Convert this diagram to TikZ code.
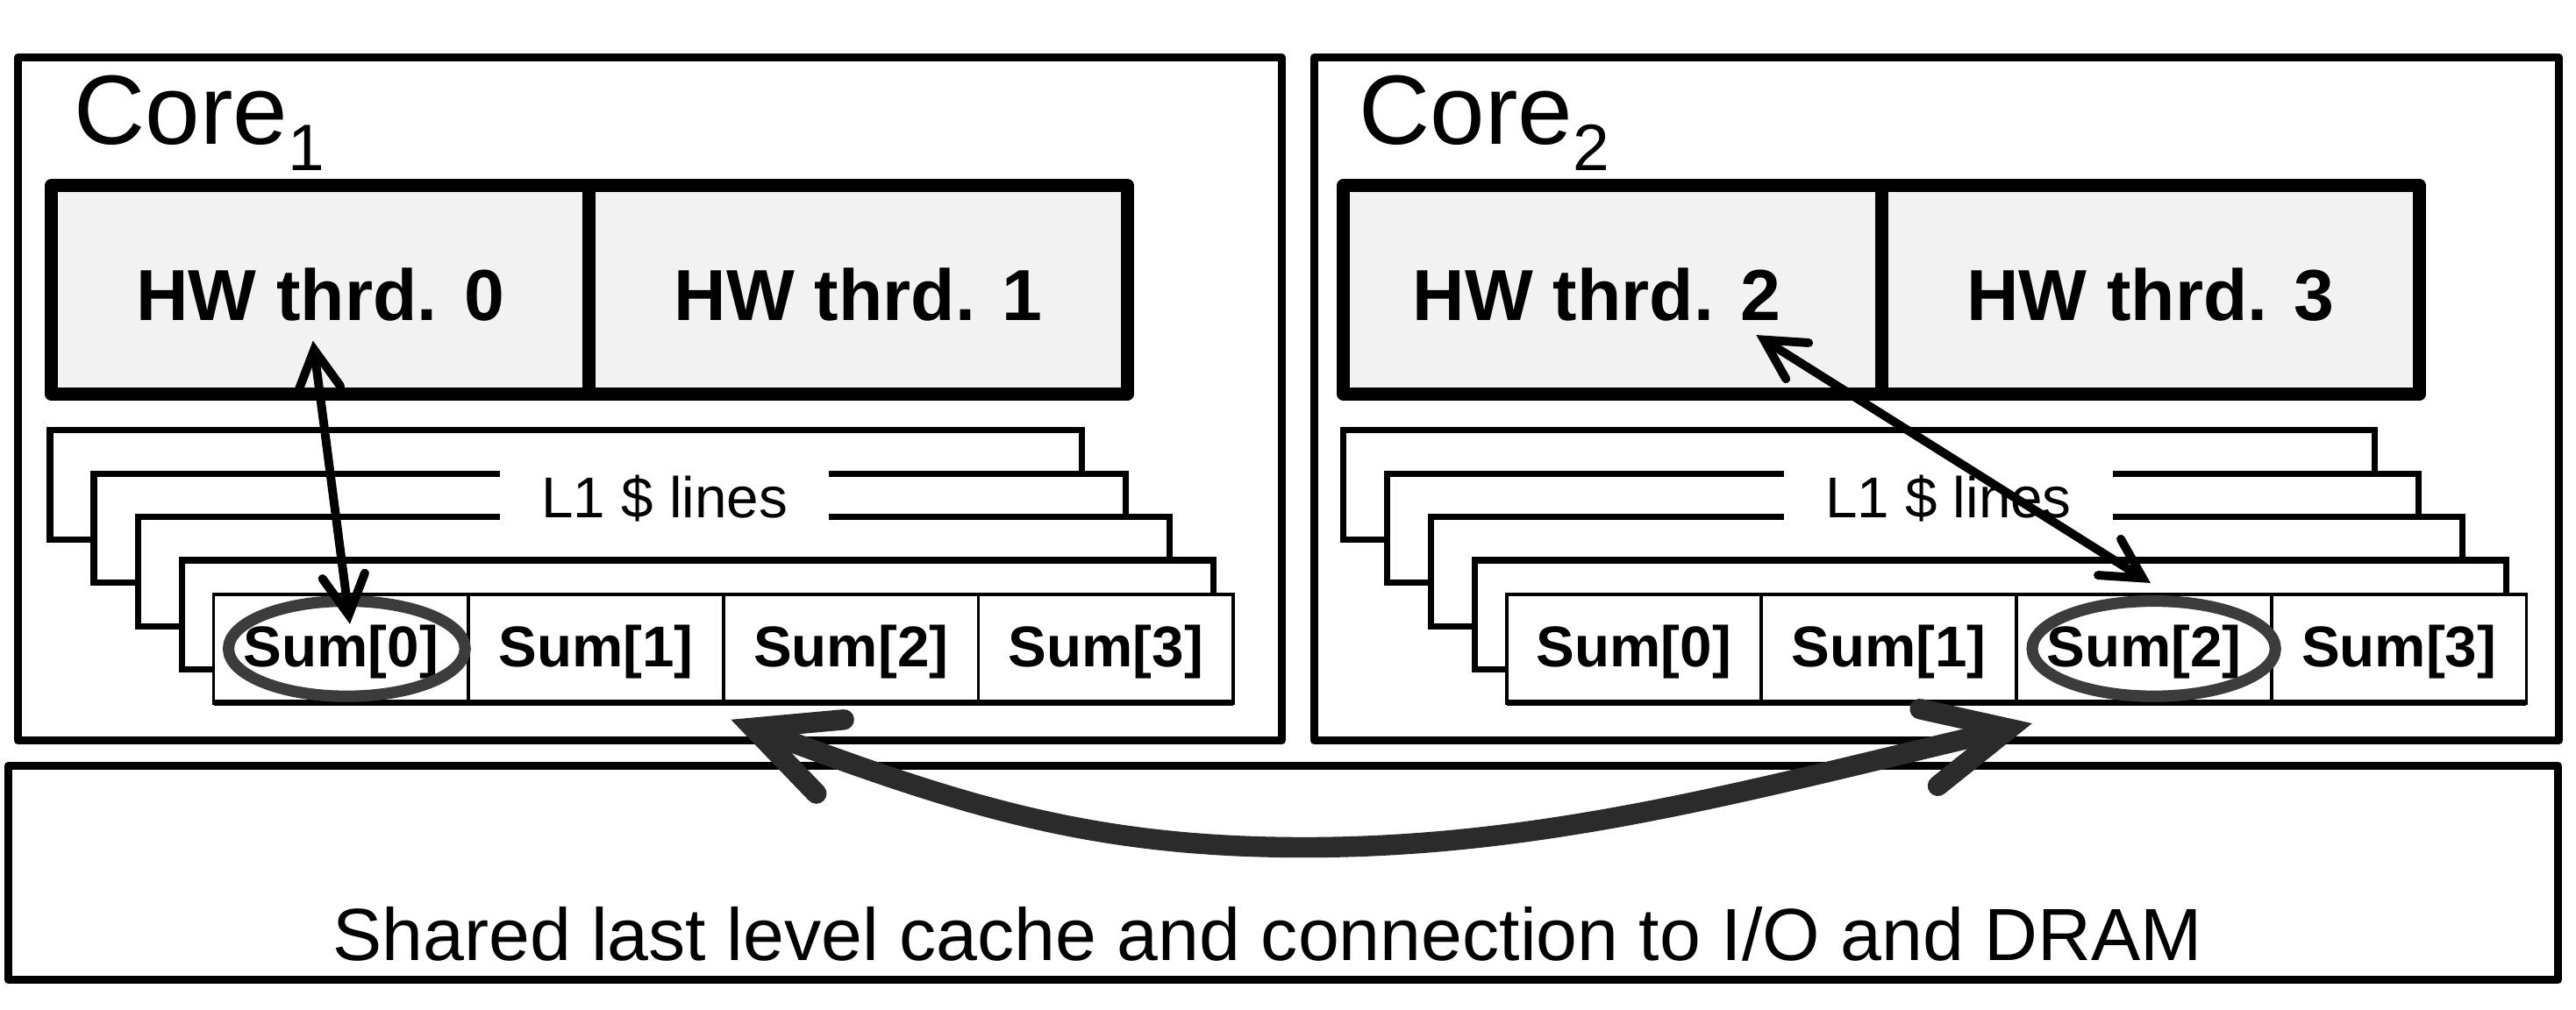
\documentclass[tikz,border=0pt]{standalone}
\usepackage{fontspec}
\setmainfont{Liberation Sans}
\usepackage{tikz}
\usepackage{xcolor}
\usetikzlibrary{arrows.meta}
\usetikzlibrary{positioning}

\definecolor{cellgray}{HTML}{F2F2F2}
\definecolor{ringgray}{HTML}{3C3C3C}
\definecolor{arrowgray}{HTML}{2B2B2B}

\begin{document}
\begin{tikzpicture}[x=1pt, y=-1pt,
    >={Straight Barb[line cap=round, line join=miter, length=24pt, width=26pt]},
    core box/.style={rectangle, draw, line width=4.8pt, line join=round, inner sep=0pt},
    core label/.style={anchor=base west, inner sep=0pt, font=\fontsize{60}{60}\selectfont},
    thrd node/.style={rectangle, draw, fill=cellgray, line width=8pt, line join=round,
                      outer sep=0pt, inner sep=0pt, minimum width=327.5pt, minimum height=127pt,
                      text height=37pt, text depth=0pt, font=\fontsize{44}{44}\selectfont\bfseries},
    line box/.style={draw, fill=white, line width=3.9pt},
    sum node/.style={rectangle, draw, fill=white, line width=2pt, outer sep=0pt, inner sep=0pt,
                     minimum width=155.2pt, minimum height=66pt, text height=24pt, text depth=2pt,
                     font=\fontsize{35}{35}\selectfont\bfseries},
    l1 label/.style={fill=white, inner sep=0pt, minimum width=200pt, minimum height=38pt,
                     text height=25pt, text depth=0pt, font=\fontsize{35}{35}\selectfont},
    ring/.style={draw=ringgray, line width=7pt},
    small arrow/.style={<->, line width=5.3pt},
    big arrow/.style={<->, >={Straight Barb[line cap=round, line join=miter, length=50pt, width=48pt]},
                      draw=arrowgray, line width=12.5pt}]

  \useasboundingbox[fill=white] (0,0) rectangle (1568,614.5);

  % core 1
  \node[core box, minimum width=769pt, minimum height=416pt] (core1) at (395.5,243) {};
  \node[core label] (core1name) at (45,88) {Core\raisebox{-16pt}{\fontsize{40}{40}\selectfont 1}};
  \node[thrd node] (c1thrd0) at (195,176.5) {HW thrd. 0};
  \node[thrd node] (c1thrd1) [right=0pt of c1thrd0] {HW thrd. 1};
  \draw[line box] (30.5,262) rectangle +(628,66.5);
  \draw[line box] (57.2,288.4) rectangle +(628,66.5);
  \draw[line box] (83.9,314.8) rectangle +(628,66.5);
  \draw[line box] (110.6,341.2) rectangle +(628,66.5);
  \node[sum node] (c1sum0) at (207.6,395) {Sum[0]};
  \node[sum node] (c1sum1) [right=0pt of c1sum0] {Sum[1]};
  \node[sum node] (c1sum2) [right=0pt of c1sum1] {Sum[2]};
  \node[sum node] (c1sum3) [right=0pt of c1sum2] {Sum[3]};
  \draw[line width=3.6pt] (c1sum0.south west) -- (c1sum3.south east);
  \node[l1 label] (c1lines) at (404.5,303) {L1 \$ lines};
  \draw[ring] ([xshift=3.5pt]c1sum0.center) ellipse [x radius=72pt, y radius=29pt];
  \draw[small arrow] ([shift={(-4.5,31)}]c1thrd0.center) -- ([shift={(5.4,-15)}]c1sum0.center);

  % core 2
  \node[core box, minimum width=757.6pt, minimum height=416pt] (core2) at (1178.8,243) {};
  \node[core label] (core2name) at (827,88) {Core\raisebox{-16pt}{\fontsize{40}{40}\selectfont 2}};
  \node[thrd node] (c2thrd2) at (981.5,176.5) {\hspace*{-19pt}HW thrd. 2};
  \node[thrd node] (c2thrd3) [right=0pt of c2thrd2] {HW thrd. 3};
  \draw[line box] (817.5,262) rectangle +(628,66.5);
  \draw[line box] (844.2,288.4) rectangle +(628,66.5);
  \draw[line box] (870.9,314.8) rectangle +(628,66.5);
  \draw[line box] (897.6,341.2) rectangle +(628,66.5);
  \node[sum node] (c2sum0) at (994.6,395) {Sum[0]};
  \node[sum node] (c2sum1) [right=0pt of c2sum0] {Sum[1]};
  \node[sum node] (c2sum2) [right=0pt of c2sum1] {Sum[2]};
  \node[sum node] (c2sum3) [right=0pt of c2sum2] {Sum[3]};
  \draw[line width=3.6pt] (c2sum0.south west) -- (c2sum3.south east);
  \node[l1 label] (c2lines) at (1186,303) {L1 \$ lines};
  \draw[ring] ([xshift=6pt]c2sum2.center) ellipse [x radius=74pt, y radius=29pt];
  \draw[small arrow] ([shift={(87.5,27.5)}]c2thrd2.center) -- ([shift={(4,-40)}]c2sum2.center);

  % shared cache
  \node[core box, line width=5pt, minimum width=1552pt, minimum height=130.3pt] (llc) at (781,531.5) {};
  \node[anchor=base, inner sep=0pt, font=\fontsize{45}{45}\selectfont] (llctext)
    at ([shift={(-9.5,53.5)}]llc.center) {Shared last level cache and connection to I/O and DRAM};

  \draw[big arrow] ([shift={(4.5,10.2)}]c1sum2.south west)
    .. controls +(140.6,52.4) and +(-130,0) .. ([shift={(13,-15.5)}]llc.center)
    .. controls +(150,0) and +(-165.6,38.6) .. ([shift={(9.5,12.5)}]c2sum2.south west);
\end{tikzpicture}
\end{document}
